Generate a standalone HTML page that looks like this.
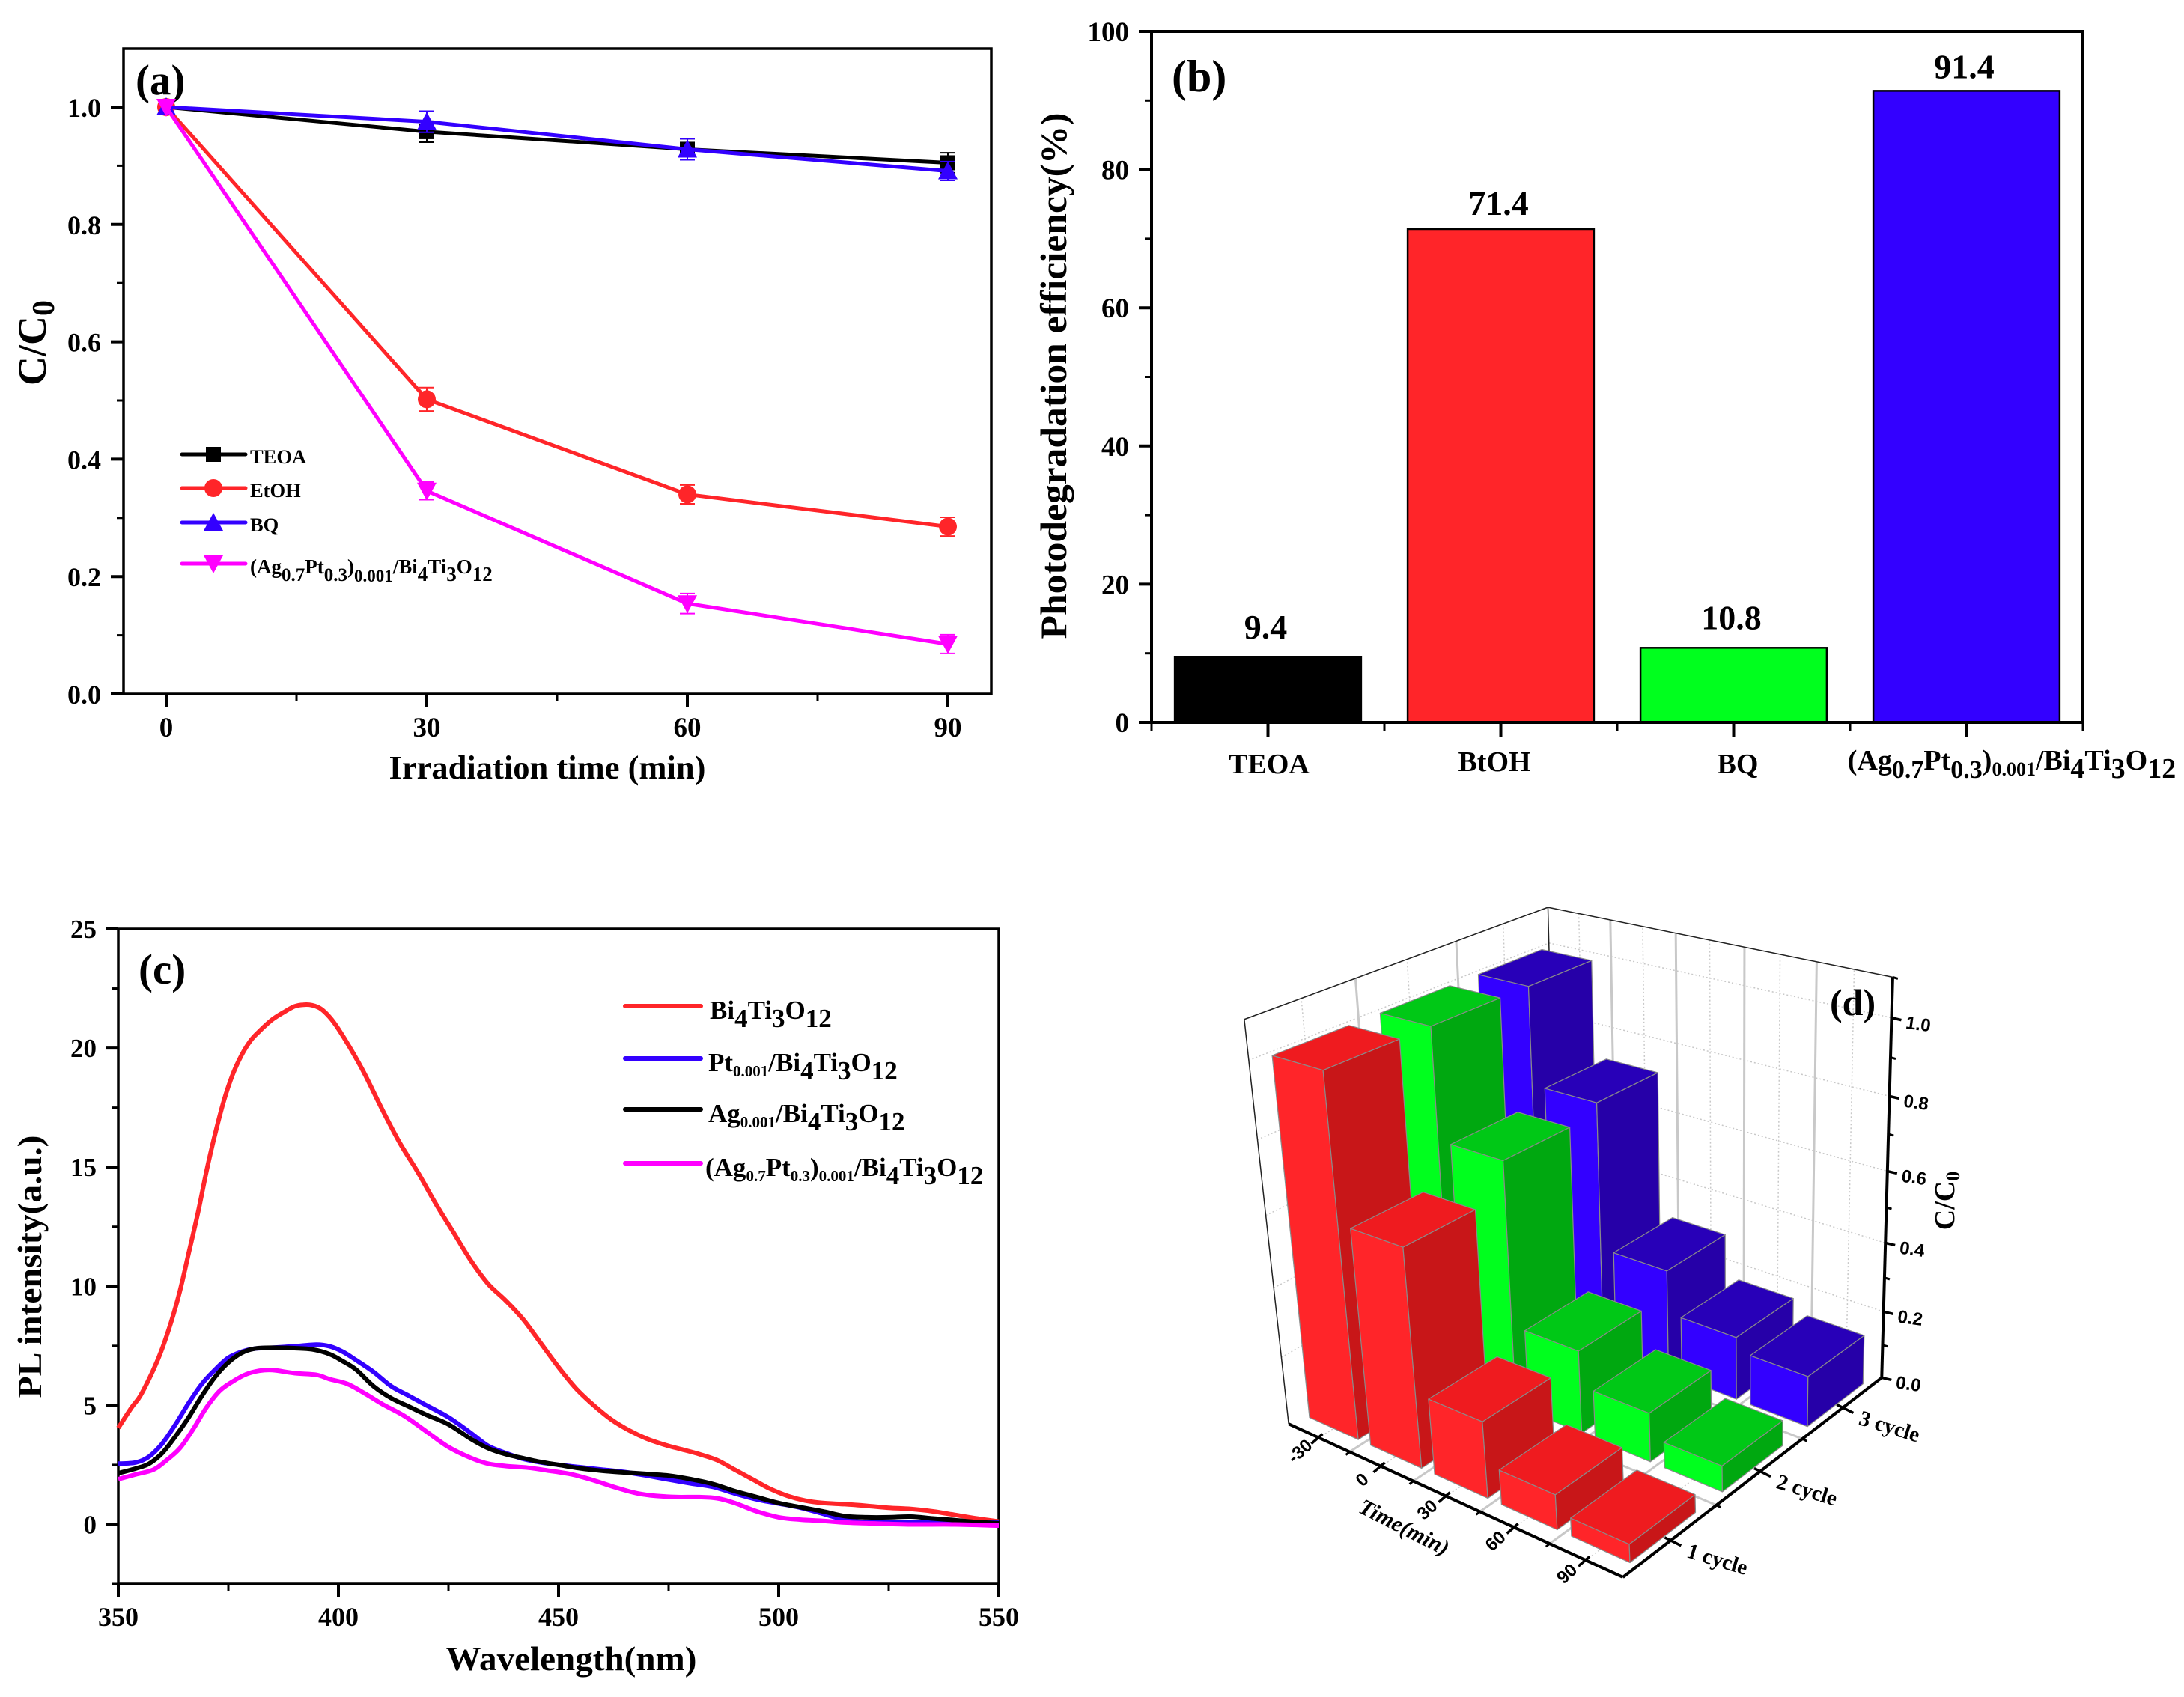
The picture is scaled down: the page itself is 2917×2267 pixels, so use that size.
<!DOCTYPE html>
<html lang="en">
<head>
<meta charset="utf-8">
<title>Photocatalysis figure</title>
<style>
html,body{margin:0;padding:0;background:#fff;width:2917px;height:2267px;overflow:hidden}
svg{display:block}
text{font-family:"Liberation Serif",serif;font-weight:bold;fill:#000}
.sans{font-family:"Liberation Sans",sans-serif}
</style>
</head>
<body>
<svg id="fig" xmlns="http://www.w3.org/2000/svg" width="2917" height="2267" viewBox="0 0 2917 2267">
<rect width="2917" height="2267" fill="#fff"/>

<g id="pa">
  <text x="181" y="126" font-size="57">(a)</text>
  <text x="731" y="1040" font-size="44" text-anchor="middle" textLength="423" lengthAdjust="spacingAndGlyphs">Irradiation time (min)</text>
  <text transform="translate(61,458) rotate(-90)" font-size="54" text-anchor="middle">C/C<tspan dy="11" font-size="42">0</tspan></text>
  <g>
    <text x="334" y="619" font-size="26.5">TEOA</text>
    <text x="334" y="664" font-size="26.5">EtOH</text>
    <text x="334" y="710" font-size="26.5">BQ</text>
    <text x="334" y="766" font-size="27">(Ag<tspan dy="10" font-size="25">0.7</tspan><tspan dy="-10">Pt</tspan><tspan dy="10" font-size="25">0.3</tspan><tspan dy="-10">)</tspan><tspan dy="11" font-size="23">0.001</tspan><tspan dy="-11">/Bi</tspan><tspan dy="10" font-size="27">4</tspan><tspan dy="-10">Ti</tspan><tspan dy="10" font-size="27">3</tspan><tspan dy="-10">O</tspan><tspan dy="10" font-size="27">12</tspan></text>
  </g>
</g>

<g id="pb">
  <text x="1565" y="122" font-size="60">(b)</text>
  <text transform="translate(1424,502) rotate(-90)" font-size="50" text-anchor="middle" textLength="703" lengthAdjust="spacingAndGlyphs">Photodegradation efficiency(%)</text>
</g>

<g id="pc">
  <text x="185" y="1314" font-size="57">(c)</text>
  <text x="763" y="2231" font-size="46" text-anchor="middle" textLength="335" lengthAdjust="spacingAndGlyphs">Wavelength(nm)</text>
  <text transform="translate(55,1692) rotate(-90)" font-size="46" text-anchor="middle" textLength="351" lengthAdjust="spacingAndGlyphs">PL intensity(a.u.)</text>
  <g>
    <line x1="835" x2="936" y1="1344" y2="1344" stroke="#ff2529" stroke-width="6" stroke-linecap="round"/>
    <line x1="835" x2="936" y1="1414" y2="1414" stroke="#3300ff" stroke-width="6" stroke-linecap="round"/>
    <line x1="835" x2="936" y1="1482" y2="1482" stroke="#000" stroke-width="6" stroke-linecap="round"/>
    <line x1="835" x2="936" y1="1554" y2="1554" stroke="#ff00ff" stroke-width="6" stroke-linecap="round"/>
    <text x="948" y="1361" font-size="35">Bi<tspan dy="11">4</tspan><tspan dy="-11">Ti</tspan><tspan dy="11">3</tspan><tspan dy="-11">O</tspan><tspan dy="11">12</tspan></text>
    <text x="946" y="1431" font-size="35">Pt<tspan dy="7" font-size="21">0.001</tspan><tspan dy="-7">/Bi</tspan><tspan dy="11">4</tspan><tspan dy="-11">Ti</tspan><tspan dy="11">3</tspan><tspan dy="-11">O</tspan><tspan dy="11">12</tspan></text>
    <text x="946" y="1499" font-size="35">Ag<tspan dy="7" font-size="21">0.001</tspan><tspan dy="-7">/Bi</tspan><tspan dy="11">4</tspan><tspan dy="-11">Ti</tspan><tspan dy="11">3</tspan><tspan dy="-11">O</tspan><tspan dy="11">12</tspan></text>
    <text x="942" y="1571" font-size="35">(Ag<tspan dy="7" font-size="21">0.7</tspan><tspan dy="-7">Pt</tspan><tspan dy="7" font-size="21">0.3</tspan><tspan dy="-7">)</tspan><tspan dy="7" font-size="21">0.001</tspan><tspan dy="-7">/Bi</tspan><tspan dy="11">4</tspan><tspan dy="-11">Ti</tspan><tspan dy="11">3</tspan><tspan dy="-11">O</tspan><tspan dy="11">12</tspan></text>
  </g>
</g>

<g id="pd"></g>
</svg>

<script>
// ---------- panel (a) data ----------
const aTimes = [0, 30, 60, 90];
const aTeoa = [1, 0.958, 0.928, 0.905];
const aEtoh = [1, 0.502, 0.34, 0.285];
const aBq = [1, 0.975, 0.928, 0.891];
const aAgPt = [1, 0.346, 0.154, 0.085];
const aTeoaErr = [0, 0.018, 0.018, 0.017];
const aEtohErr = [0, 0.02, 0.016, 0.016];
const aBqErr = [0, 0.018, 0.018, 0.016];
const aAgPtErr = [0, 0.015, 0.017, 0.016];
const aYTicks = [0, 0.2, 0.4, 0.6, 0.8, 1.0];
const aYMinor = [0.1, 0.3, 0.5, 0.7, 0.9, 1.1];
const aXTicks = [0, 30, 60, 90];
const aXMinor = [15, 45, 75];

// ---------- panel (b) data ----------
const bCategories = ['TEOA', 'BtOH', 'BQ', '(Ag<tspan dy="11" font-size="34">0.7</tspan><tspan dy="-11">Pt</tspan><tspan dy="11" font-size="34">0.3</tspan><tspan dy="-11">)</tspan><tspan dy="8" font-size="26">0.001</tspan><tspan dy="-8">/Bi</tspan><tspan dy="11">4</tspan><tspan dy="-11">Ti</tspan><tspan dy="11">3</tspan><tspan dy="-11">O</tspan><tspan dy="11">12</tspan>'];
const bValues = [9.4, 71.4, 10.8, 91.4];
const bValueLabels = ['9.4', '71.4', '10.8', '91.4'];
const bYTicks = [0, 20, 40, 60, 80, 100];
const bYMinor = [10, 30, 50, 70, 90];

// ---------- panel (c) data ----------
const cRedNm = [350,353,355,358,360,362,364,366,368,370,372,374,376,378,380,382,385,388,390,392,394,396,398,400,403,406,410,414,418,422,426,430,434,438,442,446,450,454,458,462,466,470,474,478,482,486,490,494,498,502,506,510,515,520,525,530,535,540,545,550];
const cRed = [4.05,4.9,5.4,6.5,7.4,8.5,9.8,11.4,13.0,14.8,16.4,17.8,18.9,19.7,20.3,20.7,21.2,21.55,21.75,21.82,21.8,21.65,21.3,20.8,19.9,18.9,17.4,16.0,14.8,13.5,12.3,11.1,10.1,9.4,8.6,7.6,6.6,5.7,5.0,4.4,3.95,3.6,3.35,3.15,2.95,2.7,2.3,1.9,1.5,1.2,1.0,0.9,0.85,0.78,0.7,0.65,0.55,0.4,0.25,0.12];
const cBlueNm = [350,354,357,360,363,366,369,372,375,378,381,385,390,395,398,401,404,408,412,416,420,425,430,434,438,442,446,450,455,460,465,470,475,480,485,490,495,500,505,510,515,520,530,540,550];
const cBlue = [2.55,2.6,2.85,3.4,4.2,5.1,5.9,6.5,7.0,7.25,7.38,7.42,7.48,7.55,7.48,7.25,6.9,6.4,5.8,5.4,5.0,4.5,3.85,3.3,3.0,2.75,2.6,2.5,2.4,2.3,2.2,2.05,1.88,1.72,1.58,1.3,1.05,0.88,0.7,0.45,0.2,0.1,0.1,0.1,0.08];
const cBlackNm = [350,354,357,360,363,366,369,372,375,378,381,385,390,394,398,401,404,408,412,416,420,425,430,434,438,442,446,450,455,460,465,470,475,480,485,490,495,500,505,510,515,520,525,530,535,540,545,550];
const cBlack = [2.15,2.35,2.55,3.0,3.7,4.5,5.4,6.2,6.8,7.2,7.38,7.42,7.4,7.35,7.15,6.85,6.5,5.8,5.3,4.95,4.6,4.2,3.6,3.2,2.95,2.78,2.62,2.5,2.35,2.25,2.18,2.12,2.05,1.9,1.7,1.4,1.15,0.9,0.72,0.55,0.35,0.3,0.3,0.33,0.25,0.18,0.1,0.05];
const cPinkNm = [350,354,358,361,364,367,370,373,376,379,382,385,390,395,398,402,406,410,415,420,425,430,434,438,443,448,453,458,463,468,472,477,482,486,490,495,500,505,510,515,520,530,540,550];
const cPink = [1.9,2.1,2.3,2.7,3.2,4.0,4.9,5.6,6.0,6.3,6.45,6.48,6.35,6.28,6.1,5.9,5.5,5.05,4.55,3.9,3.25,2.8,2.55,2.45,2.38,2.25,2.1,1.85,1.55,1.3,1.2,1.15,1.15,1.1,0.9,0.55,0.3,0.2,0.15,0.08,0.05,0,0,-0.05];
const cYTicks = [0, 5, 10, 15, 20, 25];
const cYMinor = [-2.5, 2.5, 7.5, 12.5, 17.5, 22.5];
const cXTicks = [350, 400, 450, 500, 550];
const cXMinor = [375, 425, 475, 525];

// ---------- panel (d) data ----------
const dTimes = [-30, 0, 30, 60, 90];
const dCycles = [1, 2, 3];
const dCycleLabels = ['1 cycle', '2 cycle', '3 cycle'];
const dCycle1 = [1.0, 0.61, 0.215, 0.097, 0.05];
const dCycle2 = [1.0, 0.7, 0.24, 0.14, 0.073];
const dCycle3 = [1.0, 0.73, 0.31, 0.185, 0.147];
const dZTicks = [0, 0.2, 0.4, 0.6, 0.8, 1.0];
const dZMinor = [0.1, 0.3, 0.5, 0.7, 0.9, 1.1];
const dTimeMinor = [-15, 15, 45, 75];
const dCycleMinor = [1.5, 2.5];

// ---------- helpers ----------
const NS = 'http://www.w3.org/2000/svg';
function el(tag, attrs, parent) {
  const e = document.createElementNS(NS, tag);
  for (const k in attrs) e.setAttribute(k, attrs[k]);
  parent.appendChild(e);
  return e;
}
function linear(d0, d1, r0, r1) {
  return v => r0 + (v - d0) * (r1 - r0) / (d1 - d0);
}
function smoothPath(pts) {
  let d = 'M' + pts[0][0].toFixed(1) + ' ' + pts[0][1].toFixed(1);
  for (let i = 0; i < pts.length - 1; i++) {
    const p0 = pts[Math.max(i - 1, 0)], p1 = pts[i], p2 = pts[i + 1], p3 = pts[Math.min(i + 2, pts.length - 1)];
    const c1 = [p1[0] + (p2[0] - p0[0]) / 6, p1[1] + (p2[1] - p0[1]) / 6];
    const c2 = [p2[0] - (p3[0] - p1[0]) / 6, p2[1] - (p3[1] - p1[1]) / 6];
    d += 'C' + c1[0].toFixed(1) + ' ' + c1[1].toFixed(1) + ' ' + c2[0].toFixed(1) + ' ' + c2[1].toFixed(1) + ' ' + p2[0].toFixed(1) + ' ' + p2[1].toFixed(1);
  }
  return d;
}
function drawFrame(g, prefix, box, sw) {
  const r = el('rect', {x: box.l, y: box.t, width: box.r - box.l, height: box.b - box.t, fill: 'none', stroke: '#000', 'stroke-width': sw}, g);
  
  
}
function drawYAxis(g, prefix, box, y, majors, minors, fmt, size, labelRight, dyLabel) {
  majors.forEach(v => {
    const t = el('line', {x1: box.l - 17, x2: box.l, y1: y(v), y2: y(v), stroke: '#000', 'stroke-width': 4}, g);
    
    
    const l = el('text', {x: labelRight, y: y(v) + dyLabel, 'font-size': size, 'text-anchor': 'end'}, g);
    
    
    l.textContent = fmt(v);
  });
  minors.forEach(v => {
    const t = el('line', {x1: box.l - 9, x2: box.l, y1: y(v), y2: y(v), stroke: '#000', 'stroke-width': 3}, g);
    
    
  });
}
function drawXAxis(g, prefix, box, x, majors, minors, size, labelY) {
  majors.forEach(v => {
    const t = el('line', {x1: x(v), x2: x(v), y1: box.b, y2: box.b + 17, stroke: '#000', 'stroke-width': 4}, g);
    
    
    const l = el('text', {x: x(v), y: labelY, 'font-size': size, 'text-anchor': 'middle'}, g);
    
    
    l.textContent = String(v);
  });
  minors.forEach(v => {
    const t = el('line', {x1: x(v), x2: x(v), y1: box.b, y2: box.b + 9, stroke: '#000', 'stroke-width': 3}, g);
    
    
  });
}

// ---------- panel (a) ----------
(function () {
  const g = document.getElementById('pa');
  const box = {l: 165, r: 1324, t: 65, b: 927};
  const x = linear(0, 90, 222, 1266);
  const y = linear(0, 1, 927, 143);
  drawFrame(g, 'panel-a', box, 3.5);
  drawYAxis(g, 'panel-a', box, y, aYTicks, aYMinor.slice(0, 5), v => v.toFixed(1), 36, 135, 13);
  drawXAxis(g, 'panel-a', box, x, aXTicks, aXMinor, 37, 984);

  function marker(parent, kind, cx, cy, color) {
    const s = 11;
    let m;
    if (kind === 'square') m = el('rect', {x: cx - s + 1, y: cy - s + 1, width: 2 * s - 2, height: 2 * s - 2, fill: color}, parent);
    if (kind === 'circle') m = el('circle', {cx: cx, cy: cy, r: s + 1, fill: color}, parent);
    if (kind === 'up') m = el('polygon', {points: [cx, cy - s - 2, cx + s + 2, cy + s, cx - s - 2, cy + s].join(' '), fill: color}, parent);
    if (kind === 'down') m = el('polygon', {points: [cx, cy + s + 2, cx + s + 2, cy - s, cx - s - 2, cy - s].join(' '), fill: color}, parent);
    return m;
  }
  const series = [
    {id: 'teoa', vals: aTeoa, errs: aTeoaErr, color: '#000', kind: 'square', ly: 607},
    {id: 'etoh', vals: aEtoh, errs: aEtohErr, color: '#ff2529', kind: 'circle', ly: 652},
    {id: 'bq', vals: aBq, errs: aBqErr, color: '#3300ff', kind: 'up', ly: 698},
    {id: 'agpt', vals: aAgPt, errs: aAgPtErr, color: '#ff00ff', kind: 'down', ly: 753}
  ];
  series.forEach(s => {
    const sg = el('g', {}, g);
    
    
    aTimes.forEach((t, i) => {
      if (!s.errs[i]) return;
      const eb = el('path', {
        d: 'M' + (x(t) - 10) + ' ' + y(s.vals[i] + s.errs[i]) + 'H' + (x(t) + 10) +
           'M' + x(t) + ' ' + y(s.vals[i] + s.errs[i]) + 'V' + y(s.vals[i] - s.errs[i]) +
           'M' + (x(t) - 10) + ' ' + y(s.vals[i] - s.errs[i]) + 'H' + (x(t) + 10),
        fill: 'none', stroke: s.color, 'stroke-width': 2}, sg);
      
      
    });
    const line = el('polyline', {points: aTimes.map((t, i) => x(t) + ',' + y(s.vals[i])).join(' '), fill: 'none', stroke: s.color, 'stroke-width': 5, 'stroke-linejoin': 'round'}, sg);
    
    
    aTimes.forEach((t, i) => {
      const m = marker(sg, s.kind, x(t), y(s.vals[i]), s.color);
      
      
    });
    const ll = el('line', {x1: 243, x2: 328, y1: s.ly, y2: s.ly, stroke: s.color, 'stroke-width': 5, 'stroke-linecap': 'round'}, sg);
    
    
    const lm = marker(sg, s.kind, 285, s.ly, s.color);
    
    
  });
})();

// ---------- panel (b) ----------
(function () {
  const g = document.getElementById('pb');
  const box = {l: 1538, r: 2782, t: 42, b: 965};
  const y = linear(0, 100, 965, 42);
  const band = (box.r - box.l) / bCategories.length;
  const x = i => box.l + band * (i + 0.5);
  const colors = ['#000000', '#ff2529', '#00ff1e', '#3300ff'];
  bValues.forEach((v, i) => {
    const b = el('rect', {x: x(i) - band * 0.4, y: y(v), width: band * 0.8, height: y(0) - y(v), fill: colors[i], stroke: '#000', 'stroke-width': 2.5}, g);
    
    
    const t = el('text', {x: x(i) - 3, y: y(v) - (16 + (100 - v) * 0.1), 'font-size': 46, 'text-anchor': 'middle'}, g);
    
    
    t.textContent = bValueLabels[i];
    const tick = el('line', {x1: x(i), x2: x(i), y1: box.b, y2: box.b + 20, stroke: '#000', 'stroke-width': 4}, g);
    
    
    const lx = [1695, 1996, 2321, 2687][i];
    const ly = [1033, 1030, 1033, 1028][i];
    const lab = el('text', {x: lx, y: ly, 'font-size': 38, 'text-anchor': 'middle'}, g);
    
    
    lab.innerHTML = bCategories[i];
    const minor = el('line', {x1: box.l + band * (i + 1), x2: box.l + band * (i + 1), y1: box.b, y2: box.b + 11, stroke: '#000', 'stroke-width': 3}, g);
    
    
  });
  const m0 = el('line', {x1: box.l, x2: box.l, y1: box.b, y2: box.b + 11, stroke: '#000', 'stroke-width': 3}, g);
  
  
  drawFrame(g, 'panel-b', box, 4);
  drawYAxis(g, 'panel-b', box, y, bYTicks, bYMinor, v => String(v), 37, 1508, 13);
})();

// ---------- panel (c) ----------
(function () {
  const g = document.getElementById('pc');
  const box = {l: 158, r: 1334, t: 1241, b: 2116};
  const x = linear(350, 550, 158, 1334);
  const y = linear(-2.5, 25, 2116, 1241);
  drawFrame(g, 'panel-c', box, 3.5);
  drawYAxis(g, 'panel-c', box, y, cYTicks, cYMinor, v => String(v), 35, 129, 12);
  drawXAxis(g, 'panel-c', box, x, cXTicks, cXMinor, 36, 2172);
  const series = [
    {id: 'bto', nm: cRedNm, vals: cRed, color: '#ff2529'},
    {id: 'pt', nm: cBlueNm, vals: cBlue, color: '#3300ff'},
    {id: 'ag', nm: cBlackNm, vals: cBlack, color: '#000'},
    {id: 'agpt', nm: cPinkNm, vals: cPink, color: '#ff00ff'}
  ];
  series.forEach(s => {
    const line = el('path', {d: smoothPath(s.nm.map((n, i) => [x(n), y(s.vals[i])])), fill: 'none', stroke: s.color, 'stroke-width': 6, 'stroke-linejoin': 'round'}, g);
    
    
  });
})();

// ---------- panel (d) ----------
(function () {
  const g = document.getElementById('pd');
  // projection anchors (image px derived from corners of the 3D box)
  const px = (a, b) => [1600 + a / 1.568, 1180 + b / 1.6505];
  const A = px(190, 1192), B = px(890, 1530), C = px(1432, 1090), D = px(752, 830);
  const E = px(97, 300), H = px(850, 520), G = px(1455, 207), F = px(733, 53);
  function homography(p0, p1, p2, p3) {
    const dx1 = p1[0] - p2[0], dx2 = p3[0] - p2[0], sx = p0[0] - p1[0] + p2[0] - p3[0];
    const dy1 = p1[1] - p2[1], dy2 = p3[1] - p2[1], sy = p0[1] - p1[1] + p2[1] - p3[1];
    const den = dx1 * dy2 - dx2 * dy1;
    const k = (sx * dy2 - dx2 * sy) / den, h = (dx1 * sy - sx * dy1) / den;
    const a = p1[0] - p0[0] + k * p1[0], b = p3[0] - p0[0] + h * p3[0], c = p0[0];
    const d = p1[1] - p0[1] + k * p1[1], e = p3[1] - p0[1] + h * p3[1], f = p0[1];
    return (u, v) => { const w = k * u + h * v + 1; return [(a * u + b * v + c) / w, (d * u + e * v + f) / w]; };
  }
  const floor = homography(A, B, C, D);
  const top = homography(E, H, G, F);
  const uOf = t => (t + 45) / 150;
  const vOf = c => (c - 0.5) / 3;
  const wOf = z => { const w = z / 1.1; return w * 0.887 / (1 + (0.887 - 1) * w); };
  function P(t, c, z) {
    const u = uOf(t), v = vOf(c), w = wOf(z);
    const a = floor(u, v), b = top(u, v);
    return [a[0] + (b[0] - a[0]) * w, a[1] + (b[1] - a[1]) * w];
  }
  const T0 = -45, T1 = 105, C0 = 0.5, C1 = 3.5, Z1 = 1.1;
  function seg(parent, p, q, stroke, sw, dash, name) {
    const l = el('line', {x1: p[0], y1: p[1], x2: q[0], y2: q[1], stroke: stroke, 'stroke-width': sw}, parent);
    if (dash) l.setAttribute('stroke-dasharray', dash);
    
    
    return l;
  }
  const walls = el('g', {}, g);
  
  
  const gray = '#c8c8c8';
  // solid gridlines sit on the minor ticks, dotted on the major ticks
  dTimeMinor.forEach(t => {
    seg(walls, P(t, C1, 0), P(t, C1, Z1), gray, 3, null, 'wall-time-grid');
    seg(walls, P(t, C0, 0), P(t, C1, 0), gray, 3, null, 'floor-time-grid');
  });
  dTimes.forEach(t => {
    seg(walls, P(t, C1, 0), P(t, C1, Z1), gray, 1.5, '2 3', 'wall-time-grid-dotted');
    seg(walls, P(t, C0, 0), P(t, C1, 0), gray, 1.5, '2 3', 'floor-time-grid-dotted');
  });
  dCycleMinor.forEach(c => {
    seg(walls, P(T0, c, 0), P(T0, c, Z1), gray, 3, null, 'wall-cycle-grid');
    seg(walls, P(T0, c, 0), P(T1, c, 0), gray, 3, null, 'floor-cycle-grid');
  });
  dCycles.forEach(c => {
    seg(walls, P(T0, c, 0), P(T0, c, Z1), gray, 1.5, '2 3', 'wall-cycle-grid-dotted');
    seg(walls, P(T0, c, 0), P(T1, c, 0), gray, 1.5, '2 3', 'floor-cycle-grid-dotted');
  });
  dZTicks.concat(dZMinor.slice(5)).slice(1).forEach(z => {
    seg(walls, P(T0, C0, z), P(T0, C1, z), gray, 1.5, '2 3', 'wall-z-grid');
    seg(walls, P(T0, C1, z), P(T1, C1, z), gray, 1.5, '2 3', 'wall-z-grid');
  });
  seg(walls, P(T0, C0, 0), P(T0, C0, Z1), '#222', 1.5, null, 'wall-edge');
  seg(walls, P(T0, C0, Z1), P(T0, C1, Z1), '#222', 1.5, null, 'wall-edge');
  seg(walls, P(T0, C1, Z1), P(T1, C1, Z1), '#222', 1.5, null, 'wall-edge');
  seg(walls, P(T0, C1, 0), P(T0, C1, Z1), '#222', 1.5, null, 'wall-edge');

  // bars: painted back to front
  const palettes = [
    {left: '#ff2529', top: '#ef1b1f', right: '#c81618'},
    {left: '#00ff1e', top: '#00c816', right: '#00a810'},
    {left: '#3300ff', top: '#2800b8', right: '#2600a8'}
  ];
  const values = [dCycle1, dCycle2, dCycle3];
  const hw = 12, hd = 0.35;
  const barsG = el('g', {}, g);
  
  
  const poly = (pts, fill, parent, name) => {
    const f = el('polygon', {points: pts.map(p => p[0].toFixed(1) + ',' + p[1].toFixed(1)).join(' '), fill: fill, stroke: '#8a8a8a', 'stroke-width': 1.2, 'stroke-linejoin': 'round'}, parent);
    
    
  };
  for (let j = dCycles.length - 1; j >= 0; j--) {
    dTimes.forEach((t, i) => {
      const c = dCycles[j], z = values[j][i], pal = palettes[j];
      const bar = el('g', {}, barsG);
      
      
      const t0 = t - hw, t1 = t + hw, c0 = c - hd, c1 = c + hd;
      poly([P(t0, c0, 0), P(t1, c0, 0), P(t1, c0, z), P(t0, c0, z)], pal.left, bar, 'bar-face-left');
      poly([P(t1, c0, 0), P(t1, c1, 0), P(t1, c1, z), P(t1, c0, z)], pal.right, bar, 'bar-face-right');
      poly([P(t0, c0, z), P(t1, c0, z), P(t1, c1, z), P(t0, c1, z)], pal.top, bar, 'bar-face-top');
    });
  }

  // axes
  const ax = el('g', {}, g);
  
  
  seg(ax, P(T0, C0, 0), P(T1, C0, 0), '#000', 4, null, 'time-axis-line');
  seg(ax, P(T1, C0, 0), P(T1, C1, 0), '#000', 4, null, 'cycle-axis-line');
  seg(ax, P(T1, C1, 0), P(T1, C1, Z1), '#000', 4, null, 'z-axis-line');
  dTimes.forEach(t => {
    const p = P(t, C0, 0);
    seg(ax, [p[0] + 5, p[1] - 5], [p[0] - 10, p[1] + 8], '#000', 3.5, null, 'time-tick');
    const l = el('text', {x: 0, y: 0, 'font-size': 24, 'text-anchor': 'middle', class: 'sans', transform: 'translate(' + (p[0] - 20) + ',' + (p[1] + 24) + ') rotate(-42)'}, ax);
    
    
    l.textContent = String(t);
  });
  dTimeMinor.forEach(t => {
    const p = P(t, C0, 0);
    seg(ax, p, [p[0] - 5, p[1] + 4], '#000', 3, null, 'time-minor-tick');
  });
  dCycles.forEach((c, i) => {
    const p = P(T1, c, 0);
    seg(ax, [p[0] - 8, p[1] - 4], [p[0] + 14, p[1] + 7], '#000', 3.5, null, 'cycle-tick');
    const l = el('text', {x: 0, y: 0, 'font-size': 29, transform: 'translate(' + (p[0] + 20) + ',' + (p[1] + 22) + ') rotate(17)'}, ax);
    
    
    l.textContent = dCycleLabels[i];
  });
  dCycleMinor.forEach(c => {
    const p = P(T1, c, 0);
    seg(ax, p, [p[0] + 6, p[1] + 3], '#000', 3, null, 'cycle-minor-tick');
  });
  dZTicks.forEach(z => {
    const p = P(T1, C1, z);
    seg(ax, p, [p[0] + 13, p[1] + 3], '#000', 3.5, null, 'z-tick');
    const l = el('text', {x: 0, y: 0, 'font-size': 24, class: 'sans', transform: 'translate(' + (p[0] + 18) + ',' + (p[1] + 14) + ') rotate(8)'}, ax);
    
    
    l.textContent = z.toFixed(1);
  });
  dZMinor.forEach(z => {
    const p = P(T1, C1, z);
    seg(ax, p, [p[0] + 7, p[1] + 2], '#000', 3, null, 'z-minor-tick');
  });
  const tt = el('text', {x: 0, y: 0, 'font-size': 30, 'font-style': 'italic', 'text-anchor': 'middle', transform: 'translate(1871,2049) rotate(27)'}, ax);
  
  
  tt.textContent = 'Time(min)';
  const zt = el('text', {x: 0, y: 0, 'font-size': 38, 'text-anchor': 'middle', transform: 'translate(2610,1604) rotate(-90)'}, ax);
  
  
  zt.innerHTML = 'C/C<tspan dy="7" font-size="26">0</tspan>';
  const pl = el('text', {x: 2444, y: 1356, 'font-size': 50}, ax);
  
  
  pl.textContent = '(d)';
})();
</script>
</body>
</html>
